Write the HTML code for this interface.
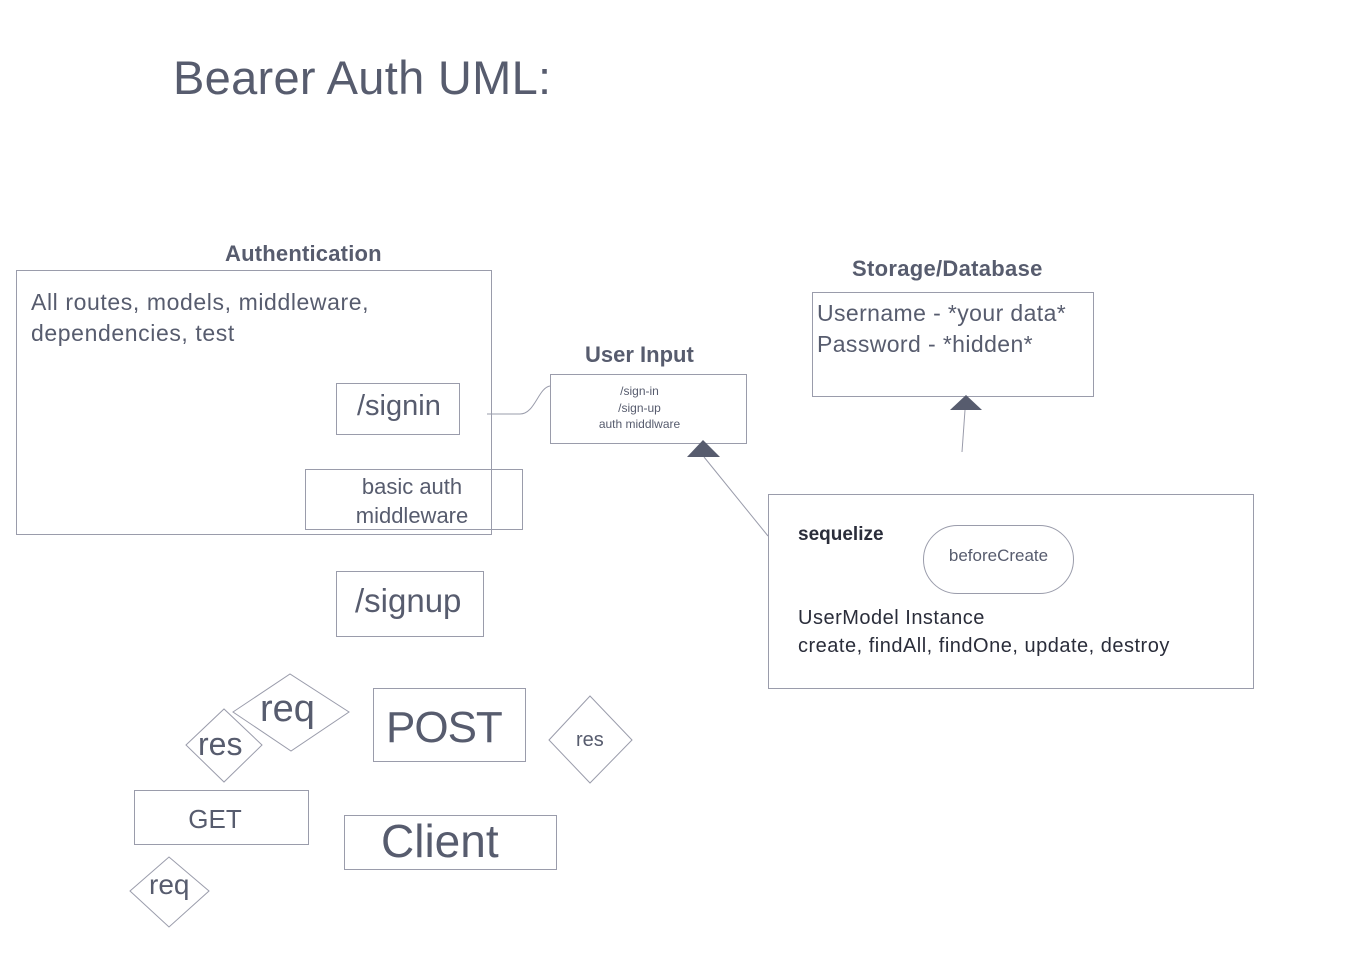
<!DOCTYPE html>
<html><head><style>
body{margin:0;width:1354px;height:970px;background:#fff;overflow:hidden;position:relative;font-family:"Liberation Sans",sans-serif;color:#575c6e}
.b{position:absolute;border:1px solid #9a9cab;box-sizing:border-box}
.t{position:absolute;white-space:nowrap}
</style></head><body>
<div class="t" style="left:173px;top:50px;font-size:47px;letter-spacing:0.3px;color:#575c6e">Bearer Auth UML:</div>
<div class="t" style="left:225px;top:241px;font-size:22px;font-weight:bold;letter-spacing:0.2px">Authentication</div>
<div class="b" style="left:16px;top:270px;width:476px;height:265px"></div>
<div class="t" style="left:31px;top:287px;font-size:23px;letter-spacing:0.6px;line-height:31px">All routes, models, middleware,<br>dependencies, test</div>
<div class="b" style="left:336px;top:383px;width:124px;height:52px"></div>
<div class="t" style="left:357px;top:390px;font-size:29px">/signin</div>
<div class="b" style="left:305px;top:469px;width:218px;height:61px"></div>
<div class="t" style="left:305px;top:472px;width:214px;text-align:center;font-size:22px;line-height:29px">basic auth<br>middleware</div>
<div class="b" style="left:336px;top:571px;width:148px;height:66px"></div>
<div class="t" style="left:355px;top:582px;font-size:33px">/signup</div>
<div class="t" style="left:585px;top:342px;font-size:22px;font-weight:bold">User Input</div>
<div class="b" style="left:550px;top:374px;width:197px;height:70px"></div>
<div class="t" style="left:550px;top:383px;width:179px;text-align:center;font-size:12px;line-height:16.5px">/sign-in<br>/sign-up<br>auth middlware</div>
<div class="t" style="left:852px;top:256px;font-size:22px;font-weight:bold;letter-spacing:0.3px">Storage/Database</div>
<div class="b" style="left:812px;top:292px;width:282px;height:105px"></div>
<div class="t" style="left:817px;top:298px;font-size:23px;letter-spacing:0.4px;line-height:31px">Username - *your data*<br>Password - *hidden*</div>
<div class="b" style="left:768px;top:494px;width:486px;height:195px"></div>
<div class="t" style="left:798px;top:524px;font-size:19px;font-weight:bold;color:#2a2d3a">sequelize</div>
<div class="b" style="left:923px;top:525px;width:151px;height:69px;border-radius:35px"></div>
<div class="t" style="left:923px;top:546px;width:151px;text-align:center;font-size:17px">beforeCreate</div>
<div class="t" style="left:798px;top:604px;font-size:20px;letter-spacing:0.5px;line-height:28px;color:#2a2d3a">UserModel Instance<br>create, findAll, findOne, update, destroy</div>
<div class="b" style="left:373px;top:688px;width:153px;height:74px"></div>
<div class="t" style="left:386px;top:703px;font-size:44px;letter-spacing:-1px">POST</div>
<div class="b" style="left:134px;top:790px;width:175px;height:55px"></div>
<div class="t" style="left:134px;top:804px;width:162px;text-align:center;font-size:26px">GET</div>
<div class="b" style="left:344px;top:815px;width:213px;height:55px"></div>
<div class="t" style="left:381px;top:814px;font-size:46px">Client</div>
<svg width="1354" height="970" style="position:absolute;left:0;top:0" fill="none" stroke="#9a9cab" stroke-width="1">
<path d="M487 414 H520 C535 414 538 388 550 386"/>
<line x1="768" y1="536" x2="704" y2="457"/>
<polygon points="687,457 720,457 703,440" fill="#575c6e" stroke="none"/>
<line x1="962" y1="452" x2="965" y2="410"/>
<polygon points="950,410 982,410 966,395" fill="#575c6e" stroke="none"/>
<polygon points="233,712 290,674 349,712 291,751" fill="#fff"/>
<polygon points="186,745 224,709 262,745 224,782" fill="#fff"/>
<polygon points="549,740 590,696 632,740 590,783"/>
<polygon points="130,891 169,857 209,891 169,927"/>
</svg>
<div class="t" style="left:260px;top:688px;font-size:38px">req</div>
<div class="t" style="left:198px;top:726px;font-size:32px">res</div>
<div class="t" style="left:576px;top:729px;font-size:20px">res</div>
<div class="t" style="left:149px;top:869px;font-size:28px">req</div>
</body></html>
